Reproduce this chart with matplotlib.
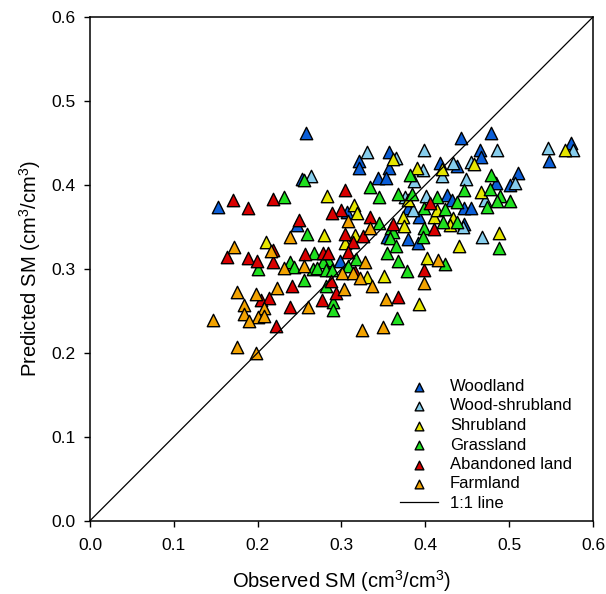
import numpy as np
import matplotlib.pyplot as plt

plt.rcParams['font.family'] = ['Liberation Sans', 'DejaVu Sans']
plt.rcParams['mathtext.fontset'] = 'custom'
plt.rcParams['mathtext.rm'] = 'Liberation Sans'

# observed / predicted SM per land use
wood_obs = [0.153, 0.247, 0.258, 0.357, 0.321, 0.321, 0.357, 0.343, 0.353, 0.253, 0.379,
            0.307, 0.392, 0.354, 0.379, 0.391, 0.298, 0.442, 0.478, 0.465, 0.466, 0.548,
            0.574, 0.417, 0.438, 0.511, 0.484, 0.501, 0.446, 0.455, 0.426, 0.432, 0.446]
wood_pred = [0.374, 0.352, 0.462, 0.439, 0.429, 0.420, 0.420, 0.408, 0.408, 0.407, 0.373,
             0.368, 0.362, 0.338, 0.336, 0.331, 0.309, 0.456, 0.462, 0.442, 0.433, 0.429,
             0.450, 0.426, 0.422, 0.414, 0.402, 0.400, 0.373, 0.373, 0.388, 0.382, 0.353]

wshrub_obs = [0.330, 0.365, 0.399, 0.397, 0.386, 0.264, 0.376, 0.401, 0.385, 0.486,
              0.546, 0.576, 0.433, 0.420, 0.455, 0.449, 0.507, 0.471, 0.445, 0.468]
wshrub_pred = [0.439, 0.432, 0.441, 0.418, 0.405, 0.411, 0.386, 0.387, 0.370, 0.442,
               0.444, 0.442, 0.426, 0.411, 0.427, 0.407, 0.402, 0.382, 0.350, 0.338]

shrub_obs = [0.210, 0.361, 0.390, 0.283, 0.379, 0.315, 0.318, 0.373, 0.410, 0.374, 0.279,
             0.316, 0.304, 0.402, 0.330, 0.351, 0.392, 0.567, 0.420, 0.458, 0.466, 0.414,
             0.433, 0.429, 0.488, 0.440]
shrub_pred = [0.332, 0.431, 0.420, 0.387, 0.382, 0.376, 0.366, 0.362, 0.362, 0.351, 0.340,
              0.340, 0.331, 0.313, 0.290, 0.292, 0.258, 0.441, 0.419, 0.425, 0.391, 0.370,
              0.361, 0.352, 0.343, 0.327]

grass_obs = [0.232, 0.201, 0.239, 0.243, 0.382, 0.255, 0.334, 0.345, 0.367, 0.384, 0.414,
             0.398, 0.345, 0.399, 0.359, 0.361, 0.358, 0.397, 0.259, 0.365, 0.354, 0.267,
             0.284, 0.278, 0.367, 0.317, 0.308, 0.266, 0.271, 0.282, 0.289, 0.378, 0.255,
             0.282, 0.290, 0.290, 0.366, 0.478, 0.446, 0.477, 0.489, 0.486, 0.501, 0.473,
             0.438, 0.423, 0.421, 0.438, 0.488, 0.423]
grass_pred = [0.386, 0.300, 0.308, 0.302, 0.412, 0.406, 0.398, 0.386, 0.389, 0.389, 0.386,
              0.373, 0.355, 0.349, 0.349, 0.344, 0.337, 0.338, 0.342, 0.327, 0.319, 0.319,
              0.311, 0.308, 0.309, 0.312, 0.303, 0.300, 0.301, 0.299, 0.299, 0.298, 0.287,
              0.279, 0.261, 0.251, 0.242, 0.412, 0.394, 0.395, 0.387, 0.381, 0.381, 0.374,
              0.380, 0.371, 0.356, 0.356, 0.325, 0.306]

aband_obs = [0.171, 0.189, 0.218, 0.249, 0.218, 0.163, 0.188, 0.199, 0.218, 0.241, 0.204,
             0.214, 0.238, 0.222, 0.304, 0.405, 0.299, 0.289, 0.334, 0.361, 0.410, 0.304,
             0.326, 0.314, 0.308, 0.257, 0.278, 0.284, 0.398, 0.316, 0.288, 0.293, 0.277,
             0.367]
aband_pred = [0.382, 0.373, 0.383, 0.358, 0.323, 0.314, 0.313, 0.309, 0.308, 0.279, 0.263,
              0.265, 0.255, 0.232, 0.394, 0.379, 0.370, 0.367, 0.362, 0.353, 0.347, 0.342,
              0.339, 0.332, 0.320, 0.318, 0.319, 0.319, 0.299, 0.296, 0.286, 0.271, 0.263,
              0.266]

farm_obs = [0.172, 0.239, 0.216, 0.232, 0.175, 0.198, 0.223, 0.184, 0.208, 0.184, 0.201,
            0.207, 0.190, 0.147, 0.175, 0.198, 0.308, 0.334, 0.328, 0.255, 0.301, 0.314,
            0.322, 0.415, 0.398, 0.336, 0.303, 0.353, 0.260, 0.324, 0.349]
farm_pred = [0.326, 0.338, 0.321, 0.301, 0.272, 0.270, 0.277, 0.257, 0.253, 0.246, 0.243,
             0.244, 0.238, 0.239, 0.207, 0.200, 0.357, 0.349, 0.308, 0.303, 0.295, 0.295,
             0.289, 0.311, 0.283, 0.279, 0.276, 0.264, 0.255, 0.227, 0.231]

labels = ['Woodland', 'Wood-shrubland', 'Shrubland', 'Grassland', 'Abandoned land', 'Farmland']
colors = ['#0b5ed7', '#86cdec', '#e6e600', '#1fe01f', '#d90000', '#f2a200']
series = [(wood_obs, wood_pred), (wshrub_obs, wshrub_pred), (shrub_obs, shrub_pred),
          (grass_obs, grass_pred), (aband_obs, aband_pred), (farm_obs, farm_pred)]

fig = plt.figure(figsize=(6.06, 5.94), dpi=100)
ax = fig.add_axes([0.1485, 0.1234, 0.83, 0.848])

for (xo, yp), lab, c in zip(series, labels, colors):
    ax.scatter(xo, yp, marker='^', s=80, facecolor=c, edgecolor='black',
               linewidth=1.0, label=lab, zorder=3)

# 1:1 line on top of the points
ax.plot([0, 0.6], [0, 0.6], color='black', lw=0.9, label='1:1 line', zorder=4)

ax.set_xlim(0, 0.6)
ax.set_ylim(0, 0.6)
ticks = np.arange(0, 0.61, 0.1)
ax.set_xticks(ticks)
ax.set_yticks(ticks)
ax.set_xticklabels(['%.1f' % t for t in ticks])
ax.set_yticklabels(['%.1f' % t for t in ticks])
ax.tick_params(direction='out', length=4.5, width=1, labelsize=12.5)
ax.tick_params(axis='x', pad=8)
ax.tick_params(axis='y', pad=6)
for sp in ax.spines.values():
    sp.set_linewidth(1.1)

ax.set_xlabel('Observed SM (cm$^3$/cm$^3$)', fontsize=14.5, labelpad=11)
ax.set_ylabel('Predicted SM (cm$^3$/cm$^3$)', fontsize=14.5, labelpad=6)

leg = ax.legend(loc='upper left', bbox_to_anchor=(400 / 606, 1 - 379 / 594),
                bbox_transform=fig.transFigure, frameon=False, fontsize=12,
                markerscale=0.7, handlelength=2.3, handletextpad=0.7,
                labelspacing=0.27, borderpad=0, borderaxespad=0)

fig.savefig('out.png', dpi=100)
